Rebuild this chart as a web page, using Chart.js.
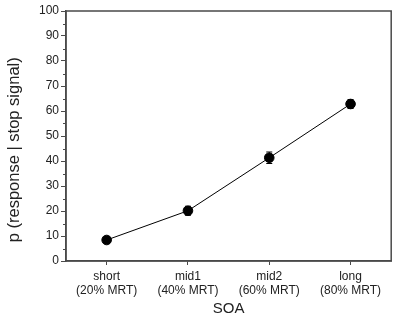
<!DOCTYPE html>
<html>
<head>
<meta charset="utf-8">
<script src="https://cdn.jsdelivr.net/npm/chart.js@4"></script>
<style>
  html, body { margin: 0; padding: 0; background: #fff; }
  #wrap { width: 397px; height: 322px; }
</style>
</head>
<body>
<div id="wrap"><canvas id="soaChart" width="397" height="322"></canvas></div>
<script>
// values
const soaLabels = [["short", "(20% MRT)"], ["mid1", "(40% MRT)"], ["mid2", "(60% MRT)"], ["long", "(80% MRT)"]];
const pResponse = [8.4, 20.1, 41.3, 62.8];
const pError = [1.1, 1.8, 2.3, 1.8];
const yMinorTicks = [5, 15, 25, 35, 45, 55, 65, 75, 85, 95];

const axisColor = "#4a4a4a";
const textColor = "#222";

// frame, minor ticks and error bars, all placed from the chart scales
const extrasPlugin = {
  id: "extras",
  afterDatasetsDraw(chart) {
    const ctx = chart.ctx;
    const area = chart.chartArea;
    const x = chart.scales.x;
    const y = chart.scales.y;
    ctx.save();
    ctx.strokeStyle = axisColor;
    ctx.lineWidth = 1.5;
    ctx.strokeRect(area.left, area.top, area.right - area.left, area.bottom - area.top);

    ctx.lineWidth = 1;
    yMinorTicks.forEach(function (v) {
      const py = Math.round(y.getPixelForValue(v)) + 0.5;
      ctx.beginPath();
      ctx.moveTo(area.left - 3, py);
      ctx.lineTo(area.left, py);
      ctx.stroke();
    });

    ctx.strokeStyle = "#000";
    pResponse.forEach(function (v, i) {
      const px = x.getPixelForValue(i);
      const top = y.getPixelForValue(v + pError[i]);
      const bot = y.getPixelForValue(v - pError[i]);
      ctx.beginPath();
      ctx.moveTo(px, top);
      ctx.lineTo(px, bot);
      ctx.moveTo(px - 3, top);
      ctx.lineTo(px + 3, top);
      ctx.moveTo(px - 3, bot);
      ctx.lineTo(px + 3, bot);
      ctx.stroke();
    });
    ctx.restore();
  },
};

new Chart(document.getElementById("soaChart"), {
  type: "line",
  data: {
    labels: soaLabels,
    datasets: [
      {
        data: pResponse,
        borderColor: "#000",
        borderWidth: 1,
        backgroundColor: "#000",
        pointRadius: 4.8,
        pointHoverRadius: 4.8,
        tension: 0,
      },
    ],
  },
  options: {
    responsive: false,
    animation: false,
    events: [],
    layout: { padding: { left: 0, right: 5, top: 11, bottom: 0 } },
    plugins: {
      legend: { display: false },
      tooltip: { enabled: false },
    },
    scales: {
      x: {
        offset: true,
        grid: {
          display: true,
          drawOnChartArea: false,
          drawTicks: true,
          tickLength: 4,
          color: axisColor,
        },
        border: { display: true, color: axisColor, width: 1.5 },
        ticks: {
          color: textColor,
          padding: 4,
          maxRotation: 0,
          font: { family: "Liberation Sans, Arial", size: 12 },
        },
        title: {
          display: true,
          text: "SOA",
          color: textColor,
          padding: { top: 0, bottom: 4 },
          font: { family: "Liberation Sans, Arial", size: 15 },
        },
        afterFit: function (scale) {
          scale.height = 61;
        },
      },
      y: {
        min: 0,
        max: 100,
        grid: {
          display: true,
          drawOnChartArea: false,
          drawTicks: true,
          tickLength: 5,
          color: axisColor,
        },
        border: { display: true, color: axisColor, width: 1.5 },
        ticks: {
          stepSize: 10,
          color: textColor,
          padding: 2,
          font: { family: "Liberation Sans, Arial", size: 12 },
        },
        title: {
          display: true,
          // trailing spaces push the visible text down, as in the figure
          text: "p (response | stop signal)      ",
          color: textColor,
          padding: { top: 5, bottom: 0 },
          font: { family: "Liberation Sans, Arial", size: 16.5 },
        },
        afterFit: function (scale) {
          scale.width = 66;
        },
      },
    },
  },
  plugins: [extrasPlugin],
});
</script>
</body>
</html>
